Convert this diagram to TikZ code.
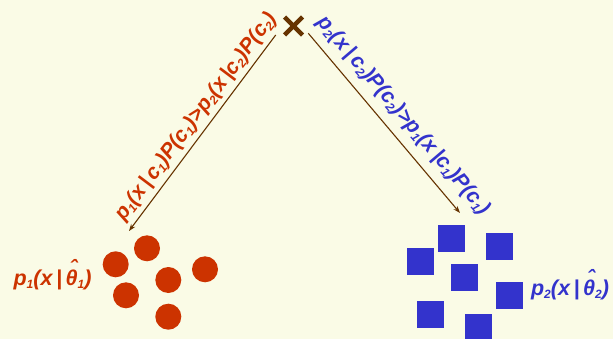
\documentclass[tikz,border=0pt]{standalone}
\usepackage{fontspec}
\setmainfont{Liberation Sans}
\usetikzlibrary{arrows.meta,calc}
\definecolor{bg}{HTML}{FAFBE6}
\definecolor{redc}{HTML}{CC3300}
\definecolor{bluec}{HTML}{3333CC}
\definecolor{brownc}{HTML}{663300}
\newcommand{\subs}[1]{\raisebox{-3pt}{\fontsize{12}{12}\selectfont #1}}
\newcommand{\hattheta}{\leavevmode\rlap{\hspace{0.2em}\raisebox{0.42em}{ˆ}}θ}
\tikzset{
  conn/.style={draw=brownc, line width=1.1pt, -{Stealth[length=7pt,width=5pt]}},
  lab/.style={font=\fontsize{21}{21}\selectfont\bfseries\itshape, inner sep=0pt},
  blab/.style={font=\fontsize{21.5}{21.5}\selectfont\bfseries\itshape, inner sep=0pt},
  dot/.style={circle, fill=redc, minimum size=26pt, inner sep=0pt},
  sq/.style={rectangle, fill=bluec, minimum size=26.7pt, inner sep=0pt},
  crossline/.style={draw=brownc, line width=4.5pt}
}
\begin{document}
\begin{tikzpicture}[x=1pt,y=-1pt]
\fill[bg] (0,0) rectangle (613,339);
\useasboundingbox (0,0) rectangle (613,339);
% cross
\coordinate (x) at (293.5,26);
\draw[crossline] ($(x)+(-9,-9)$) -- ($(x)+(9,9)$);
\draw[crossline] ($(x)+(-9,9)$) -- ($(x)+(9,-9)$);
\coordinate (ls) at (275.7,35);
\coordinate (le) at (129,231);
\coordinate (rs) at (308.3,33.3);
\coordinate (re) at (460,213);
\draw[conn] (ls) -- (le);
\draw[conn] (rs) -- (re);
% labels on arrows
\node[lab, text=redc, rotate=53] (ll) at (196,117) {p\subs{1}(x\,|\,c\subs{1})P(c\subs{1})>p\subs{2}(x\,|c\subs{2})P(c\subs{2})};
\node[lab, text=bluec, rotate=-49.5] (rl) at (403,116) {p\subs{2}(x\,|\,c\subs{2})P(c\subs{2})>p\subs{1}(x\,|c\subs{1})P(c\subs{1})};
% circles
\node[dot] (c1) at (115.7,264.3) {};
\node[dot] (c2) at (147,248.3) {};
\node[dot] (c3) at (168.3,280) {};
\node[dot] (c4) at (205,269.3) {};
\node[dot] (c5) at (126,295.3) {};
\node[dot] (c6) at (168.3,316.7) {};
% squares
\node[sq] (s1) at (420.3,261.3) {};
\node[sq] (s2) at (451.3,238.3) {};
\node[sq] (s3) at (499.3,246.3) {};
\node[sq] (s4) at (464.3,277.3) {};
\node[sq] (s5) at (509.3,295.3) {};
\node[sq] (s6) at (430.3,314.3) {};
\node[sq] (s7) at (478.3,327) {};
% class labels
\node[blab, text=redc, anchor=base] (p1) at (52.5,285) {p\subs{1}(x\,|\,\hattheta\subs{1})};
\node[blab, text=bluec, anchor=base] (p2) at (570,295) {p\subs{2}(x\,|\,\hattheta\subs{2})};
\end{tikzpicture}
\end{document}
